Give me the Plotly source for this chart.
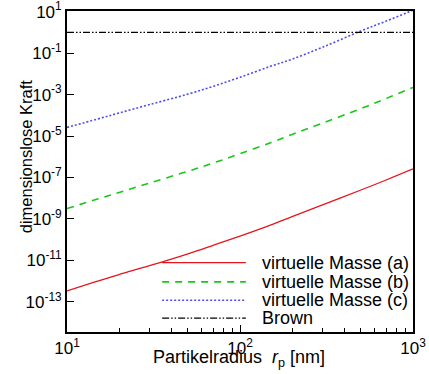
import plotly.graph_objects as go

# Particle radius [nm]
radius_nm = [10, 15, 20, 30, 50, 70, 100, 150, 200, 300, 500, 700, 1000]

# dimensionless force values
virt_mass_a = [3.4e-13, 1.0e-12, 2.1e-12, 5.6e-12, 2.1e-11, 5.4e-11, 1.5e-10,
               5.1e-10, 1.3e-9, 4.8e-9, 2.5e-8, 7.6e-8, 2.6e-7]
virt_mass_b = [3.2e-9, 9.1e-9, 1.9e-8, 5.4e-8, 2.0e-7, 5.0e-7, 1.4e-6,
               4.7e-6, 1.2e-5, 4.2e-5, 2.1e-4, 6.5e-4, 2.2e-3]
virt_mass_c = [2.6e-5, 6.6e-5, 1.3e-4, 3.3e-4, 1.05e-3, 2.5e-3, 6.8e-3,
               2.3e-2, 5.1e-2, 0.19, 1.17, 3.5, 11.7]
brown_radius = [10, 1000]
brown_force = [1.0, 1.0]

series_names = ["virtuelle Masse (a)", "virtuelle Masse (b)",
                "virtuelle Masse (c)", "Brown"]

x_tickvals = [10, 100, 1000]
x_ticktext = ["10<sup>1</sup>", "10<sup>2</sup>", "10<sup>3</sup>"]
x_minorvals = [20, 30, 40, 50, 60, 70, 80, 90, 200, 300, 400, 500, 600, 700, 800, 900]
y_tickvals = [1e1, 1e-1, 1e-3, 1e-5, 1e-7, 1e-9, 1e-11, 1e-13]
y_ticktext = ["10<sup>1</sup>", "10<sup>-1</sup>", "10<sup>-3</sup>", "10<sup>-5</sup>",
              "10<sup>-7</sup>", "10<sup>-9</sup>", "10<sup>-11</sup>", "10<sup>-13</sup>"]

styles = [
    dict(color="#e3161c", width=1.3, dash="solid"),
    dict(color="#18c818", width=1.6, dash="7px,6px"),
    dict(color="#4a4cf5", width=1.6, dash="2px,2px"),
    dict(color="#000000", width=1.2, dash="7px,2px,1.5px,2px,1.5px,2px"),
]

FONT = "Liberation Sans, Arial, sans-serif"

fig = go.Figure()
data = [(radius_nm, virt_mass_a), (radius_nm, virt_mass_b),
        (radius_nm, virt_mass_c), (brown_radius, brown_force)]
for (xs, ys), name, st in zip(data, series_names, styles):
    fig.add_trace(go.Scatter(x=xs, y=ys, mode="lines", name=name,
                             line=dict(color=st["color"], width=st["width"], dash=st["dash"]),
                             line_shape="spline", showlegend=False))

# manual legend (line samples + labels), lower right inside plot
leg_y = [0.216, 0.156, 0.099, 0.043]
for name, st, yy in zip(series_names, styles, leg_y):
    fig.add_shape(type="line", xref="paper", yref="paper",
                  x0=0.275, x1=0.517, y0=yy, y1=yy,
                  line=dict(color=st["color"], width=st["width"], dash=st["dash"]))
    fig.add_annotation(xref="paper", yref="paper", x=0.558, y=yy, text=name,
                       showarrow=False, xanchor="left", yanchor="middle",
                       font=dict(family=FONT, size=18, color="black"))

# axis titles as annotations for exact placement
fig.add_annotation(xref="paper", yref="paper", x=0.497, y=-0.084,
                   text="Partikelradius  <i>r</i><sub>p</sub> [nm]",
                   showarrow=False, xanchor="center", yanchor="middle",
                   font=dict(family=FONT, size=18, color="black"))
fig.add_annotation(xref="paper", yref="paper", x=-0.118, y=0.548,
                   text="dimensionslose Kraft", textangle=-90,
                   showarrow=False, xanchor="center", yanchor="middle",
                   font=dict(family=FONT, size=16.5, color="black"))

fig.update_layout(
    width=429, height=374,
    margin=dict(l=67, r=16, t=11, b=42),
    paper_bgcolor="white", plot_bgcolor="white",
    font=dict(family=FONT, size=17, color="black"),
    showlegend=False,
)
fig.update_xaxes(
    type="log", range=[1, 3], automargin=False, ticklabeloverflow="allow",
    tickvals=x_tickvals, ticktext=x_ticktext,
    ticks="inside", ticklen=7, tickwidth=1.2, tickcolor="black",
    minor=dict(tickvals=x_minorvals, ticks="inside", ticklen=4, tickwidth=1, tickcolor="black"),
    showline=True, linecolor="black", linewidth=1.8, mirror=True,
    showgrid=False, zeroline=False,
    tickfont=dict(family=FONT, size=17),
)
fig.update_yaxes(
    type="log", range=[-14.45, 1.03], automargin=False, ticklabeloverflow="allow",
    tickvals=y_tickvals, ticktext=y_ticktext,
    ticks="inside", ticklen=7, tickwidth=1.2, tickcolor="black",
    showline=True, linecolor="black", linewidth=1.8, mirror=True,
    showgrid=False, zeroline=False,
    tickfont=dict(family=FONT, size=17),
)

fig.write_html("out.html",
               config={"displayModeBar": False},
               post_script="document.body.style.margin='0';document.body.style.overflow='hidden';")
